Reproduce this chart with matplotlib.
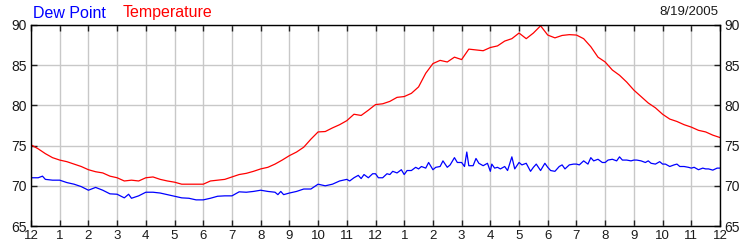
import matplotlib.pyplot as plt
import numpy as np

plt.rcParams['font.family'] = ['Liberation Sans', 'DejaVu Sans']

# temperature, every 15 minutes from midnight (hours 0..24)
temp_values = [
    75.1, 74.6, 74.0, 73.5, 73.2, 73.0, 72.7, 72.4,
    72.0, 71.75, 71.6, 71.2, 71.0, 70.6, 70.7, 70.6,
    71.0, 71.1, 70.8, 70.6, 70.45, 70.2, 70.2, 70.2,
    70.2, 70.6, 70.7, 70.8, 71.1, 71.4, 71.55, 71.8,
    72.1, 72.3, 72.7, 73.2, 73.75, 74.2, 74.8, 75.8,
    76.7, 76.75, 77.2, 77.6, 78.1, 78.9, 78.75, 79.4,
    80.1, 80.2, 80.5, 81.0, 81.1, 81.5, 82.3, 84.0,
    85.2, 85.6, 85.4, 86.0, 85.7, 87.0, 86.9, 86.8,
    87.2, 87.4, 88.0, 88.3, 89.0, 88.3, 89.0, 89.9,
    88.75, 88.4, 88.7, 88.8, 88.75, 88.3, 87.3, 86.0,
    85.4, 84.4, 83.75, 82.9, 81.9, 81.1, 80.3, 79.7,
    78.9, 78.3, 78.0, 77.6, 77.3, 76.9, 76.7, 76.3,
    76.0,
]
temp_hours = [i * 0.25 for i in range(len(temp_values))]

# dew point, irregular readings (hour, value) - noisy in the afternoon
dew_hours = [
    0.0, 0.25, 0.4, 0.5, 0.75, 1.0, 1.25, 1.5, 1.75, 2.0,
    2.25, 2.5, 2.75, 3.0, 3.25, 3.4, 3.5, 3.75, 4.0, 4.25,
    4.5, 4.75, 5.0, 5.25, 5.5, 5.75, 6.0, 6.25, 6.5, 6.75,
    7.0, 7.25, 7.5, 7.75, 8.0, 8.25, 8.5, 8.6, 8.7, 8.8,
    9.0, 9.25, 9.5, 9.75, 10.0, 10.25, 10.5, 10.75, 11.0, 11.1,
    11.25, 11.4, 11.5, 11.6, 11.75, 11.9, 12.0, 12.1, 12.25, 12.4,
    12.5, 12.6, 12.75, 12.9, 13.0, 13.1, 13.25, 13.4, 13.5, 13.6,
    13.75, 13.85, 14.0, 14.1, 14.25, 14.35, 14.5, 14.6, 14.75, 14.85,
    15.0, 15.1, 15.18, 15.25, 15.4, 15.5, 15.6, 15.75, 15.9, 16.0,
    16.05, 16.15, 16.25, 16.35, 16.5, 16.6, 16.75, 16.85, 17.0, 17.1,
    17.25, 17.4, 17.5, 17.6, 17.75, 17.9, 18.0, 18.1, 18.25, 18.4,
    18.5, 18.6, 18.75, 18.9, 19.0, 19.1, 19.25, 19.4, 19.5, 19.6,
    19.75, 19.9, 20.0, 20.1, 20.25, 20.4, 20.5, 20.6, 20.75, 20.9,
    21.0, 21.1, 21.25, 21.4, 21.5, 21.6, 21.75, 21.9, 22.0, 22.1,
    22.25, 22.4, 22.5, 22.6, 22.75, 22.9, 23.0, 23.1, 23.25, 23.4,
    23.5, 23.6, 23.75, 23.9, 24.0,
]
dew_values = [
    71.0, 71.0, 71.2, 70.8, 70.7, 70.7, 70.4, 70.2, 69.9, 69.45,
    69.8, 69.45, 69.0, 68.95, 68.5, 68.95, 68.45, 68.75, 69.2, 69.2,
    69.1, 68.9, 68.7, 68.5, 68.45, 68.25, 68.25, 68.45, 68.7, 68.75,
    68.75, 69.25, 69.2, 69.3, 69.45, 69.3, 69.2, 68.9, 69.3, 68.9,
    69.1, 69.3, 69.6, 69.6, 70.2, 70.0, 70.2, 70.6, 70.8, 70.6,
    71.0, 71.3, 70.9, 71.4, 71.0, 71.5, 71.5, 71.0, 71.0, 71.5,
    71.4, 71.8, 71.6, 72.0, 71.4, 71.9, 71.9, 72.3, 72.1, 72.4,
    72.2, 72.9, 72.0, 72.3, 72.4, 73.1, 72.3, 72.6, 73.5, 72.9,
    72.9, 72.4, 74.2, 72.5, 72.5, 73.4, 72.8, 72.5, 72.8, 71.8,
    72.7, 72.2, 72.3, 72.1, 72.4, 71.9, 73.6, 72.1, 72.9, 72.6,
    72.8, 71.8, 72.3, 72.7, 71.9, 72.8, 72.3, 71.9, 71.8, 72.4,
    72.6, 72.1, 72.6, 72.7, 72.7, 72.6, 73.1, 72.7, 73.5, 73.1,
    73.3, 72.9, 72.9, 73.2, 73.3, 73.1, 73.6, 73.2, 73.2, 73.1,
    73.2, 73.2, 73.1, 72.9, 73.1, 72.8, 72.7, 73.0, 72.7, 72.7,
    72.4, 72.6, 72.7, 72.4, 72.4, 72.3, 72.2, 72.3, 72.0, 72.2,
    72.1, 72.1, 71.95, 72.2, 72.2,
]

hour_labels = ['12', '1', '2', '3', '4', '5', '6', '7', '8', '9', '10', '11',
               '12', '1', '2', '3', '4', '5', '6', '7', '8', '9', '10', '11', '12']
y_ticks = [65, 70, 75, 80, 85, 90]

fig = plt.figure(figsize=(7.5, 2.5), dpi=100)
ax = fig.add_axes([31 / 750, 24 / 250, 689 / 750, 201 / 250])

ax.plot(temp_hours, temp_values, color='#ff0000', lw=0.9)
ax.plot(dew_hours, dew_values, color='#0000ff', lw=0.9)

ax.set_xlim(0, 24)
ax.set_ylim(65, 90)
ax.set_xticks(np.arange(25))
ax.set_xticklabels(hour_labels)
ax.set_yticks(y_ticks)
ax.grid(True, color='#c8c8c8', lw=1)
ax.set_axisbelow(True)

ax.tick_params(axis='both', direction='in', length=4, width=1, color='#202020',
               labelsize=10, labelcolor='#1a1a1a', top=True, right=True,
               labelright=True, pad=3)
ax.tick_params(axis='x', pad=3, labelsize=9.5)
for sp in ax.spines.values():
    sp.set_linewidth(1)
    sp.set_color('black')

fig.text(33 / 750, 1 - 13 / 250, 'Dew Point', color='#0000ff', fontsize=11.5, va='center')
fig.text(123 / 750, 1 - 13 / 250, 'Temperature', color='#ff0000', fontsize=11.5, va='center')
fig.text(718 / 750, 1 - 12 / 250, '8/19/2005', color='#1a1a1a', fontsize=9.5, va='center', ha='right')

fig.savefig('out.png', dpi=100)
